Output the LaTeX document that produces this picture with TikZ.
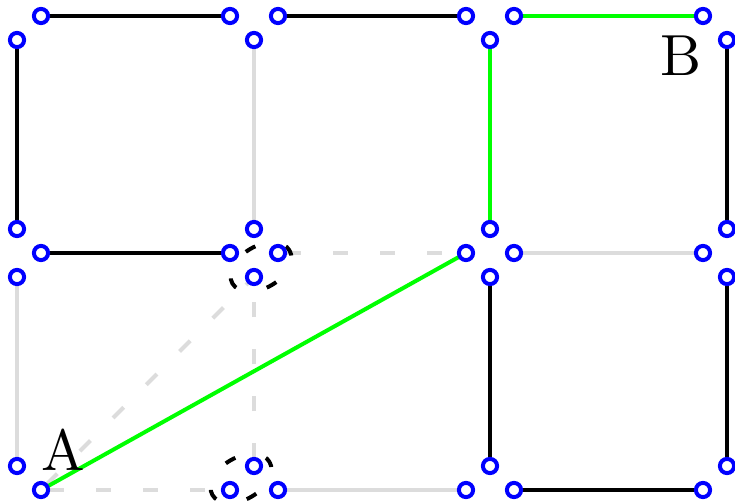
\documentclass[tikz,border=0pt]{standalone}
\usetikzlibrary{backgrounds}
\definecolor{lgray}{RGB}{220,220,220}
\definecolor{vgreen}{RGB}{0,255,0}
\font\biglbl=cmr10 at 29pt
\begin{document}
\begin{tikzpicture}[x=0.5pt,y=-0.5pt,
  dot/.style={circle,draw=blue,fill=white,line width=2pt,minimum size=7.1pt,inner sep=0pt},
  blk/.style={black,line width=2pt},
  grn/.style={vgreen,line width=2pt},
  gry/.style={lgray,line width=2pt},
  gdash/.style={lgray,line width=2pt,dash pattern=on 7.5pt off 16pt,dash phase=19.5pt},
  edash/.style={black,line width=2pt,dash pattern=on 5.5pt off 15.97pt,dash phase=2.75pt},
  lbl/.style={font=\biglbl,inner sep=0pt}]
\useasboundingbox (0,0) rectangle (735,504);
% row 0
\node[dot] (a0R) at (41,16) {};
\node[dot] (a0D) at (17,40) {};
\node[dot] (b0L) at (230,16) {};
\node[dot] (b0R) at (278,16) {};
\node[dot] (b0D) at (254,40) {};
\node[dot] (c0L) at (466,16) {};
\node[dot] (c0R) at (514,16) {};
\node[dot] (c0D) at (490,40) {};
\node[dot] (d0L) at (703,16) {};
\node[dot] (d0D) at (727,40) {};
% row 1
\node[dot] (a1U) at (17,229) {};
\node[dot] (a1R) at (41,253) {};
\node[dot] (a1D) at (17,277) {};
\node[dot] (b1U) at (254,229) {};
\node[dot] (b1L) at (230,253) {};
\node[dot] (b1R) at (278,253) {};
\node[dot] (b1D) at (254,277) {};
\node[dot] (c1U) at (490,229) {};
\node[dot] (c1L) at (466,253) {};
\node[dot] (c1R) at (514,253) {};
\node[dot] (c1D) at (490,277) {};
\node[dot] (d1U) at (727,229) {};
\node[dot] (d1L) at (703,253) {};
\node[dot] (d1D) at (727,277) {};
% row 2
\node[dot] (a2U) at (17,466) {};
\node[dot] (a2R) at (41,490) {};
\node[dot] (b2U) at (254,466) {};
\node[dot] (b2L) at (230,490) {};
\node[dot] (b2R) at (278,490) {};
\node[dot] (c2U) at (490,466) {};
\node[dot] (c2L) at (466,490) {};
\node[dot] (c2R) at (514,490) {};
\node[dot] (d2U) at (727,466) {};
\node[dot] (d2L) at (703,490) {};
% labels
\node[lbl] (A) at (63,451) {A};
\node[lbl] (B) at (681,56) {B};
\coordinate (e1) at (261,267);
\coordinate (e2) at (241,478.5);
\begin{pgfonlayer}{background}
  % gray solid
  \draw[gry] (b0D.center) -- (b1U.center);
  \draw[gry] (c1R.center) -- (d1L.center);
  \draw[gry] (a1D.center) -- (a2U.center);
  \draw[gry] (b2R.center) -- (c2L.center);
  % gray dashed
  \draw[gdash] (b1R.center) -- (c1L.center);
  \draw[gdash] (b2U.center) -- (b1D.center);
  \draw[gdash] (a2R.center) -- (b2L.center);
  \draw[gdash] (a2R.center) -- (b1D.center);
  % black
  \draw[blk] (a0R.center) -- (b0L.center);
  \draw[blk] (b0R.center) -- (c0L.center);
  \draw[blk] (a0D.center) -- (a1U.center);
  \draw[blk] (d0D.center) -- (d1U.center);
  \draw[blk] (a1R.center) -- (b1L.center);
  \draw[blk] (c1D.center) -- (c2U.center);
  \draw[blk] (d1D.center) -- (d2U.center);
  \draw[blk] (c2R.center) -- (d2L.center);
  % green
  \draw[grn] (c0R.center) -- (d0L.center);
  \draw[grn] (c0D.center) -- (c1U.center);
  \draw[grn] (a2R.center) -- (c1L.center);
  % dashed ellipses
  \draw[edash,rotate around={30:(e1)}] (e1) ellipse [x radius=16.5pt,y radius=10.5pt];
  \draw[edash,rotate around={30:(e2)}] (e2) ellipse [x radius=16.5pt,y radius=10.5pt];
\end{pgfonlayer}
\end{tikzpicture}
\end{document}
